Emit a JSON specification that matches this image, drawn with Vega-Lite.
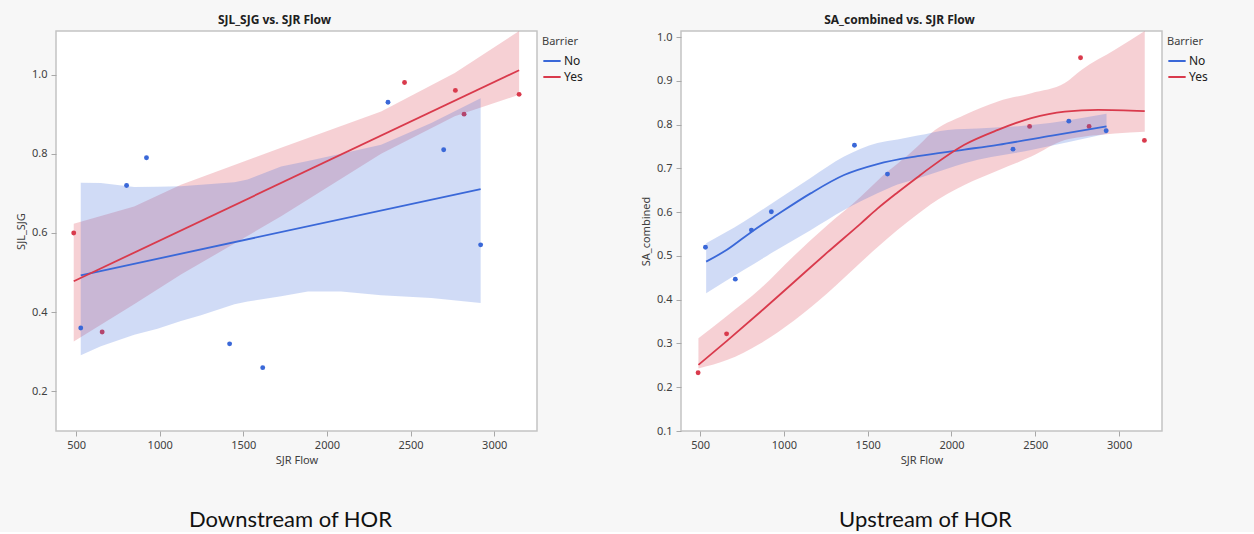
{
  "$schema": "https://vega.github.io/schema/vega-lite/v6.json",
  "background": "#f7f7f7",
  "padding": {"left": 14, "top": 12, "right": 41, "bottom": 0},
  "config": {
    "font": "Noto Sans",
    "view": {"fill": "white", "stroke": "#c4c4c4", "strokeWidth": 1.5},
    "axis": {"grid": false, "domain": false, "tickColor": "#a8a8a8", "tickSize": 5, "labelFontSize": 11, "labelColor": "#404040", "labelPadding": 4, "titleFontSize": 11, "titleFontWeight": "normal", "titleColor": "#404040"},
    "axisX": {"titlePadding": 4, "labelPadding": 3},
    "axisY": {"titlePadding": 5},
    "title": {"orient": "bottom", "frame": "group", "anchor": "middle", "font": "Lato", "fontSize": 22, "fontWeight": "normal", "color": "#111111", "offset": 45},
    "legend": {"orient": "right", "offset": 0, "padding": 5, "titleFontSize": 11, "titleFontWeight": "normal", "titleColor": "#404040", "labelFontSize": 12, "labelColor": "#202020", "symbolType": "stroke", "symbolSize": 300, "symbolStrokeWidth": 2, "symbolOpacity": 1, "labelOffset": 2, "rowPadding": -3, "titlePadding": 4}
  },
  "datasets": {
    "leftPts": [
      {"Barrier": "No", "flow": 528, "v": 0.36},
      {"Barrier": "No", "flow": 802, "v": 0.72},
      {"Barrier": "No", "flow": 921, "v": 0.79},
      {"Barrier": "No", "flow": 1418, "v": 0.32},
      {"Barrier": "No", "flow": 1616, "v": 0.26},
      {"Barrier": "No", "flow": 2365, "v": 0.93},
      {"Barrier": "No", "flow": 2698, "v": 0.81},
      {"Barrier": "No", "flow": 2919, "v": 0.57},
      {"Barrier": "Yes", "flow": 486, "v": 0.60},
      {"Barrier": "Yes", "flow": 656, "v": 0.35},
      {"Barrier": "Yes", "flow": 2464, "v": 0.98},
      {"Barrier": "Yes", "flow": 2768, "v": 0.96},
      {"Barrier": "Yes", "flow": 2820, "v": 0.90},
      {"Barrier": "Yes", "flow": 3149, "v": 0.95}
    ],
    "leftFit": [
      {"Barrier": "No", "flow": 528, "v": 0.493},
      {"Barrier": "No", "flow": 2919, "v": 0.711},
      {"Barrier": "Yes", "flow": 486, "v": 0.478},
      {"Barrier": "Yes", "flow": 3149, "v": 1.011}
    ],
    "leftBand": [
      {"Barrier": "No", "flow": 528, "lo": 0.291, "hi": 0.727},
      {"Barrier": "No", "flow": 648, "lo": 0.314, "hi": 0.726},
      {"Barrier": "No", "flow": 848, "lo": 0.343, "hi": 0.716},
      {"Barrier": "No", "flow": 987, "lo": 0.358, "hi": 0.717},
      {"Barrier": "No", "flow": 1127, "lo": 0.378, "hi": 0.718},
      {"Barrier": "No", "flow": 1247, "lo": 0.392, "hi": 0.722},
      {"Barrier": "No", "flow": 1447, "lo": 0.420, "hi": 0.728},
      {"Barrier": "No", "flow": 1526, "lo": 0.427, "hi": 0.735},
      {"Barrier": "No", "flow": 1726, "lo": 0.440, "hi": 0.768},
      {"Barrier": "No", "flow": 1886, "lo": 0.452, "hi": 0.782},
      {"Barrier": "No", "flow": 2085, "lo": 0.452, "hi": 0.800},
      {"Barrier": "No", "flow": 2324, "lo": 0.443, "hi": 0.823},
      {"Barrier": "No", "flow": 2624, "lo": 0.436, "hi": 0.878},
      {"Barrier": "No", "flow": 2919, "lo": 0.423, "hi": 0.940},
      {"Barrier": "Yes", "flow": 486, "lo": 0.326, "hi": 0.623},
      {"Barrier": "Yes", "flow": 847, "lo": 0.420, "hi": 0.667},
      {"Barrier": "Yes", "flow": 1127, "lo": 0.495, "hi": 0.722},
      {"Barrier": "Yes", "flow": 1726, "lo": 0.642, "hi": 0.815},
      {"Barrier": "Yes", "flow": 2324, "lo": 0.800, "hi": 0.907},
      {"Barrier": "Yes", "flow": 2764, "lo": 0.895, "hi": 1.004},
      {"Barrier": "Yes", "flow": 3149, "lo": 0.949, "hi": 1.11}
    ],
    "rightPts": [
      {"Barrier": "No", "flow": 532, "v": 0.52},
      {"Barrier": "No", "flow": 710, "v": 0.447},
      {"Barrier": "No", "flow": 806, "v": 0.559},
      {"Barrier": "No", "flow": 925, "v": 0.601},
      {"Barrier": "No", "flow": 1421, "v": 0.753},
      {"Barrier": "No", "flow": 1618, "v": 0.687},
      {"Barrier": "No", "flow": 2367, "v": 0.744},
      {"Barrier": "No", "flow": 2700, "v": 0.808},
      {"Barrier": "No", "flow": 2923, "v": 0.786},
      {"Barrier": "Yes", "flow": 488, "v": 0.233},
      {"Barrier": "Yes", "flow": 658, "v": 0.322},
      {"Barrier": "Yes", "flow": 2466, "v": 0.796},
      {"Barrier": "Yes", "flow": 2770, "v": 0.953},
      {"Barrier": "Yes", "flow": 2821, "v": 0.796},
      {"Barrier": "Yes", "flow": 3151, "v": 0.764}
    ],
    "rightFit": [
      {"Barrier": "No", "flow": 536, "v": 0.487},
      {"Barrier": "No", "flow": 660, "v": 0.514},
      {"Barrier": "No", "flow": 810, "v": 0.556},
      {"Barrier": "No", "flow": 959, "v": 0.594},
      {"Barrier": "No", "flow": 1159, "v": 0.643},
      {"Barrier": "No", "flow": 1359, "v": 0.685},
      {"Barrier": "No", "flow": 1558, "v": 0.710},
      {"Barrier": "No", "flow": 1798, "v": 0.728},
      {"Barrier": "No", "flow": 2077, "v": 0.743},
      {"Barrier": "No", "flow": 2277, "v": 0.754},
      {"Barrier": "No", "flow": 2600, "v": 0.775},
      {"Barrier": "No", "flow": 2925, "v": 0.796},
      {"Barrier": "Yes", "flow": 490, "v": 0.251},
      {"Barrier": "Yes", "flow": 660, "v": 0.306},
      {"Barrier": "Yes", "flow": 859, "v": 0.372},
      {"Barrier": "Yes", "flow": 1059, "v": 0.440},
      {"Barrier": "Yes", "flow": 1259, "v": 0.508},
      {"Barrier": "Yes", "flow": 1458, "v": 0.574},
      {"Barrier": "Yes", "flow": 1558, "v": 0.608},
      {"Barrier": "Yes", "flow": 1678, "v": 0.645},
      {"Barrier": "Yes", "flow": 1797, "v": 0.680},
      {"Barrier": "Yes", "flow": 1877, "v": 0.703},
      {"Barrier": "Yes", "flow": 2077, "v": 0.754},
      {"Barrier": "Yes", "flow": 2277, "v": 0.788},
      {"Barrier": "Yes", "flow": 2476, "v": 0.815},
      {"Barrier": "Yes", "flow": 2676, "v": 0.830},
      {"Barrier": "Yes", "flow": 2875, "v": 0.834},
      {"Barrier": "Yes", "flow": 3153, "v": 0.831}
    ],
    "rightBand": [
      {"Barrier": "No", "flow": 536, "lo": 0.415, "hi": 0.529},
      {"Barrier": "No", "flow": 760, "lo": 0.468, "hi": 0.578},
      {"Barrier": "No", "flow": 959, "lo": 0.514, "hi": 0.628},
      {"Barrier": "No", "flow": 1159, "lo": 0.559, "hi": 0.678},
      {"Barrier": "No", "flow": 1359, "lo": 0.605, "hi": 0.727},
      {"Barrier": "No", "flow": 1558, "lo": 0.643, "hi": 0.758},
      {"Barrier": "No", "flow": 1678, "lo": 0.663, "hi": 0.766},
      {"Barrier": "No", "flow": 1798, "lo": 0.677, "hi": 0.775},
      {"Barrier": "No", "flow": 1978, "lo": 0.700, "hi": 0.788},
      {"Barrier": "No", "flow": 2077, "lo": 0.712, "hi": 0.790},
      {"Barrier": "No", "flow": 2475, "lo": 0.742, "hi": 0.799},
      {"Barrier": "No", "flow": 2925, "lo": 0.779, "hi": 0.825},
      {"Barrier": "Yes", "flow": 490, "lo": 0.243, "hi": 0.312},
      {"Barrier": "Yes", "flow": 660, "lo": 0.262, "hi": 0.363},
      {"Barrier": "Yes", "flow": 859, "lo": 0.300, "hi": 0.425},
      {"Barrier": "Yes", "flow": 1059, "lo": 0.352, "hi": 0.500},
      {"Barrier": "Yes", "flow": 1259, "lo": 0.415, "hi": 0.570},
      {"Barrier": "Yes", "flow": 1458, "lo": 0.485, "hi": 0.635},
      {"Barrier": "Yes", "flow": 1558, "lo": 0.520, "hi": 0.672},
      {"Barrier": "Yes", "flow": 1797, "lo": 0.595, "hi": 0.750},
      {"Barrier": "Yes", "flow": 1877, "lo": 0.618, "hi": 0.780},
      {"Barrier": "Yes", "flow": 2077, "lo": 0.662, "hi": 0.822},
      {"Barrier": "Yes", "flow": 2277, "lo": 0.695, "hi": 0.853},
      {"Barrier": "Yes", "flow": 2476, "lo": 0.727, "hi": 0.872},
      {"Barrier": "Yes", "flow": 2676, "lo": 0.765, "hi": 0.895},
      {"Barrier": "Yes", "flow": 2775, "lo": 0.772, "hi": 0.925},
      {"Barrier": "Yes", "flow": 2975, "lo": 0.780, "hi": 0.971},
      {"Barrier": "Yes", "flow": 3153, "lo": 0.784, "hi": 1.014}
    ]
  },
  "hconcat": [
    {
      "width": 481,
      "height": 400,
      "title": {"text": "Downstream of HOR", "dx": -6},
      "resolve": {"scale": {"x": "independent"}},
      "layer": [
        {
          "data": {"name": "leftPts"},
          "mark": {"type": "point", "opacity": 0},
          "encoding": {
            "x": {"field": "flow", "type": "quantitative", "scale": {"domain": [380, 3256], "nice": false, "zero": false}, "axis": {"orient": "top", "labels": false, "ticks": false, "title": "SJL_SJG vs. SJR Flow", "titleFontWeight": "bold", "titleFontSize": 12, "titleColor": "#202020", "titlePadding": 5, "titleX": 218}},
            "y": {"field": "v", "type": "quantitative", "title": "SJL_SJG", "scale": {"domain": [0.1, 1.11], "nice": false, "zero": false}, "axis": {"values": [0.2, 0.4, 0.6, 0.8, 1.0], "format": ".1f"}}
          }
        },
        {
          "encoding": {
            "x": {"field": "flow", "type": "quantitative", "title": "SJR Flow", "scale": {"domain": [380, 3256], "nice": false, "zero": false}, "axis": {"orient": "bottom", "values": [500, 1000, 1500, 2000, 2500, 3000], "format": "d"}}
          },
          "layer": [
            {
              "data": {"name": "leftBand"},
              "transform": [{"filter": "datum.Barrier === 'Yes'"}],
              "mark": {"type": "area", "opacity": 0.24, "clip": true},
              "encoding": {
                "y": {"field": "hi", "type": "quantitative", "title": "SJL_SJG"},
                "y2": {"field": "lo"},
                "fill": {"field": "Barrier", "type": "nominal", "scale": {"domain": ["Yes", "No"], "range": ["#d93a4c", "#3a68d8"]}, "legend": null}
              }
            },
            {
              "data": {"name": "leftPts"},
              "mark": {"type": "circle", "size": 24, "opacity": 1},
              "encoding": {
                "y": {"field": "v", "type": "quantitative", "title": "SJL_SJG"},
                "fill": {"field": "Barrier", "type": "nominal", "legend": null}
              }
            },
            {
              "data": {"name": "leftBand"},
              "transform": [{"filter": "datum.Barrier === 'No'"}],
              "mark": {"type": "area", "opacity": 0.24, "clip": true},
              "encoding": {
                "y": {"field": "hi", "type": "quantitative", "title": "SJL_SJG"},
                "y2": {"field": "lo"},
                "fill": {"field": "Barrier", "type": "nominal", "legend": null}
              }
            },
            {
              "data": {"name": "leftFit"},
              "mark": {"type": "line", "strokeWidth": 1.8},
              "encoding": {
                "y": {"field": "v", "type": "quantitative", "title": "SJL_SJG"},
                "stroke": {"field": "Barrier", "type": "nominal", "title": "Barrier", "scale": {"domain": ["No", "Yes"], "range": ["#3a68d8", "#d93a4c"]}}
              }
            }
          ]
        }
      ]
    },
    {
      "width": 481,
      "height": 400,
      "title": {"text": "Upstream of HOR", "dx": 4},
      "resolve": {"scale": {"x": "independent"}},
      "layer": [
        {
          "data": {"name": "rightPts"},
          "mark": {"type": "point", "opacity": 0},
          "encoding": {
            "x": {"field": "flow", "type": "quantitative", "scale": {"domain": [386, 3256], "nice": false, "zero": false}, "axis": {"orient": "top", "labels": false, "ticks": false, "title": "SA_combined vs. SJR Flow", "titleFontWeight": "bold", "titleFontSize": 12, "titleColor": "#202020", "titlePadding": 5, "titleX": 218}},
            "y": {"field": "v", "type": "quantitative", "title": "SA_combined", "scale": {"domain": [0.1, 1.014], "nice": false, "zero": false}, "axis": {"values": [0.1, 0.2, 0.3, 0.4, 0.5, 0.6, 0.7, 0.8, 0.9, 1.0], "format": ".1f"}}
          }
        },
        {
          "encoding": {
            "x": {"field": "flow", "type": "quantitative", "title": "SJR Flow", "scale": {"domain": [386, 3256], "nice": false, "zero": false}, "axis": {"orient": "bottom", "values": [500, 1000, 1500, 2000, 2500, 3000], "format": "d"}}
          },
          "layer": [
            {
              "data": {"name": "rightBand"},
              "transform": [{"filter": "datum.Barrier === 'Yes'"}],
              "mark": {"type": "area", "opacity": 0.24, "clip": true, "interpolate": "monotone"},
              "encoding": {
                "y": {"field": "hi", "type": "quantitative", "title": "SA_combined"},
                "y2": {"field": "lo"},
                "fill": {"field": "Barrier", "type": "nominal", "scale": {"domain": ["Yes", "No"], "range": ["#d93a4c", "#3a68d8"]}, "legend": null}
              }
            },
            {
              "data": {"name": "rightPts"},
              "mark": {"type": "circle", "size": 24, "opacity": 1},
              "encoding": {
                "y": {"field": "v", "type": "quantitative", "title": "SA_combined"},
                "fill": {"field": "Barrier", "type": "nominal", "legend": null}
              }
            },
            {
              "data": {"name": "rightBand"},
              "transform": [{"filter": "datum.Barrier === 'No'"}],
              "mark": {"type": "area", "opacity": 0.24, "clip": true, "interpolate": "monotone"},
              "encoding": {
                "y": {"field": "hi", "type": "quantitative", "title": "SA_combined"},
                "y2": {"field": "lo"},
                "fill": {"field": "Barrier", "type": "nominal", "legend": null}
              }
            },
            {
              "data": {"name": "rightFit"},
              "mark": {"type": "line", "strokeWidth": 1.8, "interpolate": "monotone"},
              "encoding": {
                "y": {"field": "v", "type": "quantitative", "title": "SA_combined"},
                "stroke": {"field": "Barrier", "type": "nominal", "title": "Barrier", "scale": {"domain": ["No", "Yes"], "range": ["#3a68d8", "#d93a4c"]}}
              }
            }
          ]
        }
      ]
    }
  ],
  "spacing": 50,
  "resolve": {"scale": {"x": "independent", "y": "independent", "fill": "independent", "stroke": "independent"}, "legend": {"fill": "independent", "stroke": "independent"}}
}
